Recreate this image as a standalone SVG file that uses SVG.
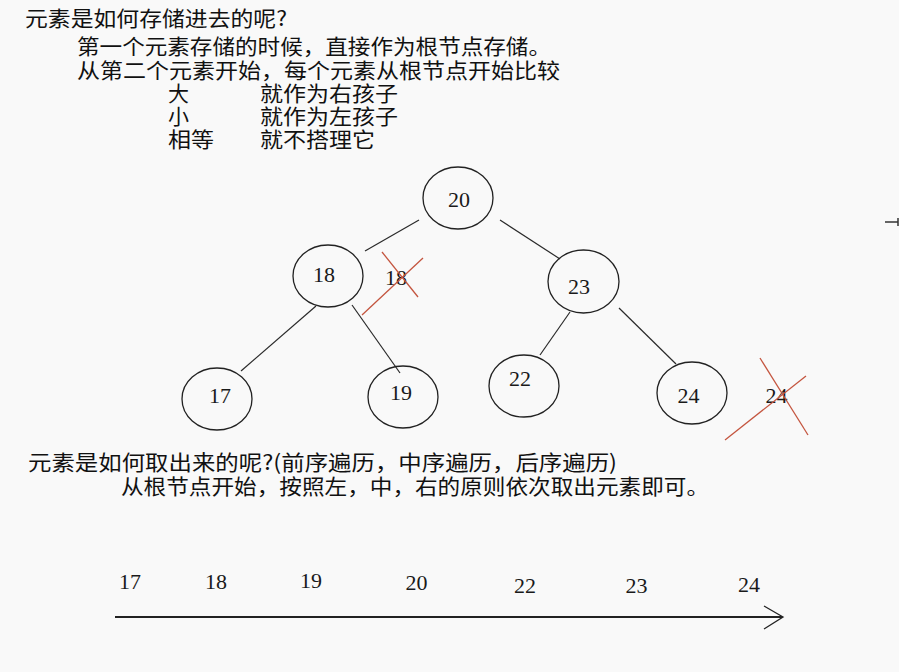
<svg xmlns="http://www.w3.org/2000/svg" width="899" height="672" viewBox="0 0 899 672">
<style>
.cn{font-family:"Noto Sans CJK SC","Noto Sans",sans-serif;font-size:21px;fill:#111}
.num{font-family:"Liberation Serif","DejaVu Serif",serif;font-size:22px;fill:#1a1a1a;text-anchor:middle}
.node ellipse{fill:none;stroke:#222;stroke-width:1.3}
.edge{stroke:#2a2a2a;stroke-width:1.2;fill:none}
.red{stroke:#c4553f;stroke-width:1.3;fill:none}
</style>
<rect width="899" height="672" fill="#f9f9f9"/>
<g id="intro-text">
<text class="cn" x="25" y="26" textLength="262" lengthAdjust="spacingAndGlyphs">元素是如何存储进去的呢?</text>
<text class="cn" x="77" y="54" textLength="474" lengthAdjust="spacingAndGlyphs">第一个元素存储的时候，直接作为根节点存储。</text>
<text class="cn" x="77" y="78" textLength="483" lengthAdjust="spacingAndGlyphs">从第二个元素开始，每个元素从根节点开始比较</text>
<text class="cn" x="168" y="101">大</text>
<text class="cn" x="260" y="101" textLength="138" lengthAdjust="spacingAndGlyphs">就作为右孩子</text>
<text class="cn" x="168" y="124">小</text>
<text class="cn" x="260" y="124" textLength="138" lengthAdjust="spacingAndGlyphs">就作为左孩子</text>
<text class="cn" x="168" y="147" textLength="46" lengthAdjust="spacingAndGlyphs">相等</text>
<text class="cn" x="260" y="147" textLength="115" lengthAdjust="spacingAndGlyphs">就不搭理它</text>
</g>
<g id="connectors">
<line class="edge" x1="419" y1="220" x2="365" y2="251"/>
<line class="edge" x1="500" y1="220" x2="560" y2="259"/>
<line class="edge" x1="316" y1="306" x2="241" y2="371"/>
<line class="edge" x1="352" y1="305" x2="400" y2="373"/>
<line class="edge" x1="570" y1="312" x2="540" y2="355"/>
<line class="edge" x1="619" y1="308" x2="676" y2="364"/>
</g>
<g id="node-20" class="node"><ellipse cx="458" cy="198" rx="35" ry="31"/><text class="num" x="459" y="207">20</text></g>
<g id="node-18" class="node"><ellipse cx="328" cy="276" rx="35" ry="31"/><text class="num" x="324" y="282">18</text></g>
<g id="node-23" class="node"><ellipse cx="583.5" cy="281.5" rx="35.5" ry="31.5"/><text class="num" x="579" y="294">23</text></g>
<g id="node-17" class="node"><ellipse cx="217" cy="399" rx="35" ry="31"/><text class="num" x="220" y="403">17</text></g>
<g id="node-19" class="node"><ellipse cx="403" cy="397" rx="35" ry="31"/><text class="num" x="401" y="400">19</text></g>
<g id="node-22" class="node"><ellipse cx="524" cy="386" rx="35" ry="31"/><text class="num" x="520" y="386">22</text></g>
<g id="node-24" class="node"><ellipse cx="692" cy="393" rx="35" ry="31"/><text class="num" x="688.5" y="403">24</text></g>
<g id="rejected-18">
<text class="num" x="396" y="285" fill="#333">18</text>
<line class="red" x1="362" y1="315" x2="423" y2="258"/>
<line class="red" x1="382" y1="252" x2="418" y2="297"/>
</g>
<g id="rejected-24">
<text class="num" x="776.5" y="403">24</text>
<line class="red" x1="725" y1="440" x2="806" y2="376"/>
<line class="red" x1="760" y1="358" x2="808" y2="435"/>
</g>
<g id="edge-mark">
<line x1="885" y1="222" x2="898" y2="222" stroke="#333" stroke-width="1.5"/>
<line x1="898" y1="218" x2="898" y2="226" stroke="#333" stroke-width="1.5"/>
</g>
<g id="output-text">
<text class="cn" x="28" y="470" textLength="589" lengthAdjust="spacingAndGlyphs">元素是如何取出来的呢?(前序遍历，中序遍历，后序遍历)</text>
<text class="cn" x="121" y="494" textLength="588" lengthAdjust="spacingAndGlyphs">从根节点开始，按照左，中，右的原则依次取出元素即可。</text>
</g>
<g id="sequence">
<text class="num" x="130" y="589">17</text>
<text class="num" x="216" y="589">18</text>
<text class="num" x="311" y="588">19</text>
<text class="num" x="416.5" y="590">20</text>
<text class="num" x="525" y="593">22</text>
<text class="num" x="636.5" y="593">23</text>
<text class="num" x="749" y="592">24</text>
<line x1="115" y1="617" x2="782" y2="617" stroke="#222" stroke-width="2"/>
<polyline points="764,606 783,617 764,629" fill="none" stroke="#222" stroke-width="1.3"/>
</g>
</svg>
